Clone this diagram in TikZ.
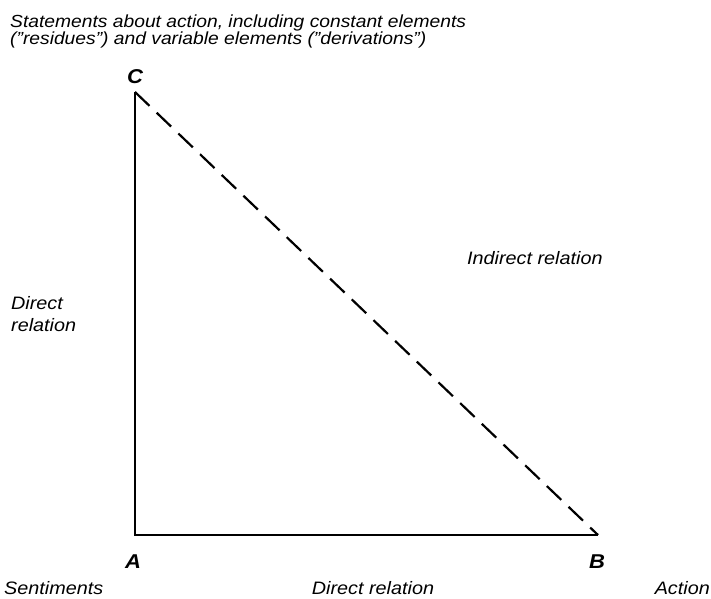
\documentclass[tikz,border=0pt]{standalone}
\usepackage{fontspec}
\setmainfont{Liberation Sans}[FakeStretch=1.1]
\begin{document}
\begin{tikzpicture}[x=1pt,y=-1pt,
  lbl/.style={font=\fontsize{18}{22}\selectfont\itshape, inner sep=0pt},
  toplbl/.style={font=\fontsize{17.5}{17}\selectfont\itshape, inner sep=0pt},
  corner/.style={font=\fontsize{20}{20}\selectfont\bfseries\itshape, inner sep=0pt},
  solidedge/.style={line width=1.8pt, line cap=butt},
  dashedge/.style={line width=2.2pt, dash pattern=on 20pt off 10pt}]
\useasboundingbox (0,0) rectangle (711,598);
\coordinate (A) at (135,535);
\coordinate (B) at (598,535);
\coordinate (C) at (135,92);
\draw[solidedge] (C) -- (A) -- (B);
\draw[dashedge] (C) -- (B);
\node[corner] (lC) at (135,77) {C};
\node[corner] (lA) at (133,562) {A};
\node[corner] (lB) at (597,562) {B};
\node[toplbl, anchor=base west] (top1) at (10,27) {Statements about action, including constant elements};
\node[toplbl, anchor=base west] (top2) at (10,44) {("residues") and variable elements ("derivations")};
\node[lbl, anchor=base west] (left1) at (11,309) {Direct};
\node[lbl, anchor=base west] (left2) at (11,331) {relation};
\node[lbl, anchor=base west] (ind) at (467,264) {Indirect relation};
\node[lbl, anchor=base west] (sent) at (4,594) {Sentiments};
\node[lbl, anchor=base] (dirb) at (373,594) {Direct relation};
\node[lbl, anchor=base east] (act) at (710,594) {Action};
\end{tikzpicture}
\end{document}
